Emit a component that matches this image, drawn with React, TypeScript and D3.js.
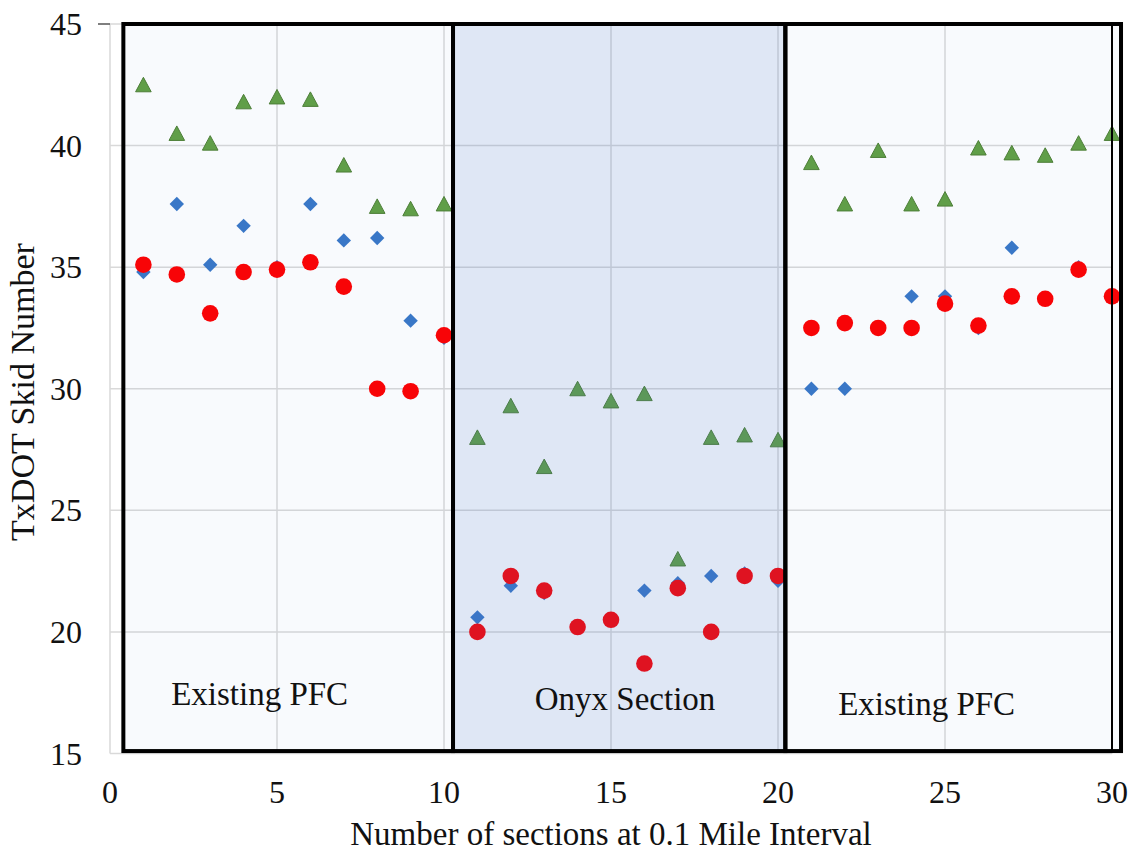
import React from "react";
import * as d3 from "d3";

const sections = [1,2,3,4,5,6,7,8,9,10,11,12,13,14,15,16,17,18,19,20,21,22,23,24,25,26,27,28,29,30];
const seriesTriangle = [42.5,40.5,40.1,41.8,42.0,41.9,39.2,37.5,37.4,37.6,28.0,29.3,26.8,30.0,29.5,29.8,23.0,28.0,28.1,27.9,39.3,37.6,39.8,37.6,37.8,39.9,39.7,39.6,40.1,40.5];
const seriesDiamond = [34.8,37.6,35.1,36.7,35.0,37.6,36.1,36.2,32.8,32.1,20.6,21.9,21.6,20.2,20.5,21.7,22.0,22.3,22.4,22.1,30.0,30.0,32.5,33.8,33.8,32.5,35.8,33.7,35.0,33.8];
const seriesCircle = [35.1,34.7,33.1,34.8,34.9,35.2,34.2,30.0,29.9,32.2,20.0,22.3,21.7,20.2,20.5,18.7,21.8,20.0,22.3,22.3,32.5,32.7,32.5,32.5,33.5,32.6,33.8,33.7,34.9,33.8];
const xTicks = [0,5,10,15,20,25,30];
const yTicks = [15,20,25,30,35,40,45];
const regionNames = ["Existing PFC","Onyx Section","Existing PFC"];
const regionStart = [0.4,10.27,20.22];
const regionEnd = [10.27,20.22,30.27];
const regionLabelX = [4.48,15.42,24.45];
const regionLabelY = [17.0,16.8,16.6];

export default function App() {
  const W = 1140, H = 855;
  const x = d3.scaleLinear().domain([0,30]).range([110,1112]);
  const y = d3.scaleLinear().domain([15,45]).range([753.5,24]);
  const grid = "#d9d9d9";
  const font = "'Liberation Serif', 'Times New Roman', serif";
  const tri = "M0,-7.5L7.8,7L-7.8,7Z";
  const dia = "M0,-7.2L7.2,0L0,7.2L-7.2,0Z";
  const fills = ["rgba(68,114,196,0.035)","rgba(68,114,196,0.17)","rgba(68,114,196,0.035)"];
  return (
    <svg width={W} height={H} style={{position:"absolute",left:0,top:0,background:"#fff"}} fontFamily={font}>
      {xTicks.map(t => <line key={"gx"+t} x1={x(t)} x2={x(t)} y1={y(45)} y2={y(15)} stroke={grid} strokeWidth={1.5}/>)}
      {yTicks.map(t => <line key={"gy"+t} x1={x(0)} x2={x(30)} y1={y(t)} y2={y(t)} stroke={grid} strokeWidth={1.5}/>)}
      <line x1={x(0)-12} x2={x(0)} y1={y(45)} y2={y(45)} stroke="#555" strokeWidth={1.5}/>
      {xTicks.map(t => <text key={"tx"+t} x={x(t)} y={803} fontSize={32} textAnchor="middle" fill="#111">{t}</text>)}
      {yTicks.map(t => <text key={"ty"+t} x={82} y={y(t)+11} fontSize={32} textAnchor="end" fill="#111">{t}</text>)}
      <text x={611} y={845} fontSize={33} textAnchor="middle" fill="#111">Number of sections at 0.1 Mile Interval</text>
      <text transform={`translate(34,${392}) rotate(-90)`} fontSize={34} textAnchor="middle" fill="#111">TxDOT Skid Number</text>
      {sections.map((s,i) => <path key={"t"+i} d={tri} transform={`translate(${x(s)},${y(seriesTriangle[i])})`} fill="#62a044" stroke="#4e7f33" strokeWidth={1}/>)}
      {sections.map((s,i) => <path key={"d"+i} d={dia} transform={`translate(${x(s)},${y(seriesDiamond[i])})`} fill="#3a78c8"/>)}
      {sections.map((s,i) => <circle key={"c"+i} cx={x(s)} cy={y(seriesCircle[i])} r={8.3} fill="#ff0000"/>)}
      {regionNames.map((n,i) => (
        <rect key={"r"+i} x={x(regionStart[i])} y={y(45)} width={x(regionEnd[i])-x(regionStart[i])} height={y(15.1)-y(45)} fill={fills[i]} stroke="#000" strokeWidth={4}/>
      ))}
      <line x1={x(30)} x2={x(30)} y1={y(45)} y2={y(15.1)} stroke="#000" strokeWidth={2}/>
      {regionNames.map((n,i) => <text key={"l"+i} x={x(regionLabelX[i])} y={y(regionLabelY[i])} fontSize={33} textAnchor="middle" fill="#111">{n}</text>)}
    </svg>
  );
}
